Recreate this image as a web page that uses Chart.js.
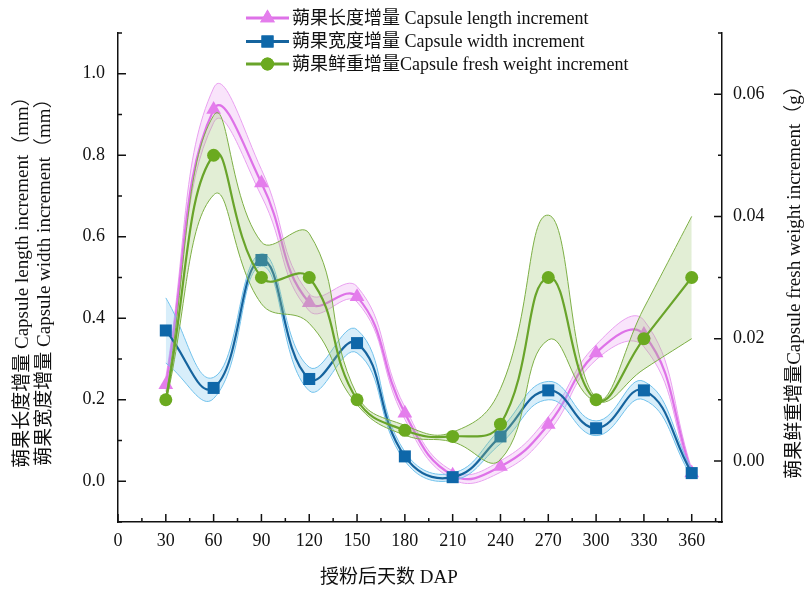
<!DOCTYPE html>
<html><head><meta charset="utf-8">
<script src="https://cdn.jsdelivr.net/npm/chart.js@4.4.1/dist/chart.umd.min.js"></script>
<style>html,body{margin:0;padding:0;background:#fff;}#wrap{width:808px;height:595px;}</style>
</head><body><div id="wrap"><canvas id="c" width="808" height="595"></canvas></div>
<script>
// ---- data ----
const days = [30, 60, 90, 120, 150, 180, 210, 240, 270, 300, 330, 360];
const lengthVals  = [0.237, 0.912, 0.732, 0.438, 0.453, 0.167, 0.015, 0.036, 0.139, 0.315, 0.360, 0.020];
const lengthUpper = [0.255, 0.965, 0.765, 0.460, 0.478, 0.182, 0.025, 0.050, 0.158, 0.335, 0.395, 0.030];
const lengthLower = [0.220, 0.880, 0.700, 0.418, 0.440, 0.152, 0.005, 0.022, 0.120, 0.298, 0.330, 0.012];
const widthVals   = [0.370, 0.229, 0.543, 0.251, 0.339, 0.061, 0.010, 0.110, 0.223, 0.130, 0.223, 0.020];
const widthUpper  = [0.450, 0.255, 0.558, 0.280, 0.372, 0.072, 0.020, 0.128, 0.245, 0.148, 0.245, 0.030];
const widthLower  = [0.290, 0.203, 0.528, 0.222, 0.315, 0.050, 0.002, 0.092, 0.200, 0.112, 0.200, 0.010];
const weightVals  = [0.0100, 0.0500, 0.0300, 0.0300, 0.0100, 0.0050, 0.0040, 0.0060, 0.0300, 0.0100, 0.0200, 0.0300];
const weightUpper = [0.0105, 0.0565, 0.0358, 0.0372, 0.0108, 0.0058, 0.0047, 0.0118, 0.0402, 0.0103, 0.0250, 0.0400];
const weightLower = [0.0095, 0.0435, 0.0257, 0.0225, 0.0092, 0.0042, 0.0031, 0.0002, 0.0198, 0.0097, 0.0150, 0.0200];

const xTicks  = [0, 30, 60, 90, 120, 150, 180, 210, 240, 270, 300, 330, 360];
const xMinor  = [15, 45, 75, 105, 135, 165, 195, 225, 255, 285, 315, 345, 375];
const yTicks  = [0, 0.2, 0.4, 0.6, 0.8, 1.0];
const yMinor  = [-0.1, 0.1, 0.3, 0.5, 0.7, 0.9, 1.1];
const y2Ticks = [0, 0.02, 0.04, 0.06];
const y2Minor = [-0.01, 0.01, 0.03, 0.05, 0.07];

const legendLabels = ['蒴果长度增量 Capsule length increment', '蒴果宽度增量 Capsule width increment', '蒴果鲜重增量Capsule fresh weight increment'];
const xTitle = '授粉后天数 DAP';
const yTitle = ['蒴果长度增量 Capsule length increment（mm）', '蒴果宽度增量 Capsule width increment（mm）'];
const y2Title = '蒴果鲜重增量Capsule fresh weight increment（g）';

// ---- styling ----
const FONT = '"Liberation Serif", "Times New Roman", "Noto Sans CJK SC", serif';
const T = 0.45;
const PINK = {line:'#DE72E8', mark:'#E47DEC', edge:'#E9A0F0', fill:'rgba(236,165,243,0.30)'};
const BLUE = {line:'#16649E', mark:'#0E67A9', edge:'#72C2EC', fill:'rgba(125,198,240,0.30)'};
const GREEN= {line:'#69A42A', mark:'#6BAA20', edge:'#7DAF45', fill:'rgba(160,200,115,0.30)'};

const xy = arr => arr.map((v, i) => ({x: days[i], y: v}));

function series(vals, up, lo, axis, c, style, radius, baseOrder) {
  return [
    {data: xy(up), yAxisID: axis, borderColor: c.edge, borderWidth: 1, pointRadius: 0, fill: false, tension: T, order: baseOrder + 1},
    {data: xy(lo), yAxisID: axis, borderColor: c.edge, borderWidth: 1, pointRadius: 0, fill: '-1', backgroundColor: c.fill, tension: T, order: baseOrder + 2},
    {data: xy(vals), yAxisID: axis, borderColor: c.line, borderWidth: 2.2, pointStyle: style, pointRadius: radius,
     pointBackgroundColor: c.mark, pointBorderColor: c.mark, pointBorderWidth: 0, fill: false, tension: T, order: baseOrder}
  ];
}

const datasets = [
  ...series(weightVals, weightUpper, weightLower, 'y2', GREEN, 'circle', 6.5, 1),
  ...series(widthVals, widthUpper, widthLower, 'y', BLUE, 'rect', 8.5, 4),
  ...series(lengthVals, lengthUpper, lengthLower, 'y', PINK, 'triangle', 8.5, 7),
];

const tickPlugin = {
  id: 'inTicks',
  afterDraw(chart) {
    const ctx = chart.ctx, a = chart.chartArea, sx = chart.scales.x, sy = chart.scales.y, s2 = chart.scales.y2;
    const MAJ = 8, MIN = 4;
    ctx.save();
    ctx.strokeStyle = '#111'; ctx.lineWidth = 1.5;
    ctx.beginPath();
    const xt = (v, L) => { const p = sx.getPixelForValue(v); ctx.moveTo(p, a.bottom); ctx.lineTo(p, a.bottom - L); };
    const yt = (v, L) => { const p = sy.getPixelForValue(v); ctx.moveTo(a.left, p); ctx.lineTo(a.left + L, p); };
    const y2t = (v, L) => { const p = s2.getPixelForValue(v); ctx.moveTo(a.right, p); ctx.lineTo(a.right - L, p); };
    xTicks.forEach(v => xt(v, MAJ)); xMinor.forEach(v => xt(v, MIN));
    yTicks.forEach(v => yt(v, MAJ)); yMinor.forEach(v => yt(v, MIN));
    y2Ticks.forEach(v => y2t(v, MAJ)); y2Minor.forEach(v => y2t(v, MIN));
    ctx.stroke();

    // axis titles
    ctx.fillStyle = '#111';
    ctx.font = '19px ' + FONT;
    ctx.textAlign = 'center'; ctx.textBaseline = 'middle';
    ctx.fillText(xTitle, 389, 578);
    const cy = (a.top + a.bottom) / 2;
    [23, 45].forEach((x, i) => {
      ctx.save(); ctx.translate(x, cy); ctx.rotate(-Math.PI / 2); ctx.fillText(yTitle[i], 0, 0); ctx.restore();
    });
    ctx.save(); ctx.translate(795, cy); ctx.rotate(-Math.PI / 2); ctx.fillText(y2Title, 0, 0); ctx.restore();

    // legend
    const rows = [18, 41.5, 64];
    const cols = [PINK, BLUE, GREEN];
    const styles = ['triangle', 'rect', 'circle'];
    const radii = [8.5, 8.5, 6.5];
    rows.forEach((ry, i) => {
      ctx.strokeStyle = cols[i].line; ctx.lineWidth = 3;
      ctx.beginPath(); ctx.moveTo(246, ry); ctx.lineTo(289, ry); ctx.stroke();
      ctx.fillStyle = cols[i].mark;
      Chart.helpers.drawPoint(ctx, {pointStyle: styles[i], radius: radii[i], rotation: 0, borderWidth: 0}, 267.5, ry);
      ctx.fill();
      ctx.fillStyle = '#111'; ctx.textAlign = 'left'; ctx.textBaseline = 'middle';
      ctx.font = '18px ' + FONT;
      ctx.fillText(legendLabels[i], 292, ry + 1);
    });
    ctx.restore();
  }
};

const tickFont = {family: FONT, size: 18};
new Chart(document.getElementById('c'), {
  type: 'line',
  data: {datasets},
  plugins: [tickPlugin],
  options: {
    responsive: false, animation: false, devicePixelRatio: 1,
    layout: {padding: {top: 33, left: 0, right: 0, bottom: 0}},
    plugins: {legend: {display: false}, tooltip: {enabled: false}, title: {display: false}},
    scales: {
      x: {type: 'linear', min: 0, max: 379,
          grid: {display: false, drawTicks: false},
          border: {display: true, color: '#111', width: 1.5},
          afterBuildTicks: s => { s.ticks = xTicks.map(v => ({value: v})); },
          afterFit: s => { s.height = 73; },
          ticks: {font: tickFont, color: '#111', padding: 8, maxRotation: 0, autoSkip: false, callback: v => String(v)}},
      y: {type: 'linear', position: 'left', min: -0.1, max: 1.1,
          grid: {display: false, drawTicks: false},
          border: {display: true, color: '#111', width: 1.5},
          afterBuildTicks: s => { s.ticks = yTicks.map(v => ({value: v})); },
          afterFit: s => { s.width = 118; },
          ticks: {font: tickFont, color: '#111', padding: 13, autoSkip: false, callback: v => Number(v).toFixed(1)}},
      y2: {type: 'linear', position: 'right', min: -0.01, max: 0.07,
          grid: {display: false, drawTicks: false},
          border: {display: true, color: '#111', width: 1.5},
          afterBuildTicks: s => { s.ticks = y2Ticks.map(v => ({value: v})); },
          afterFit: s => { s.width = 86; },
          ticks: {font: tickFont, color: '#111', padding: 11, autoSkip: false, callback: v => Number(v).toFixed(2)}}
    }
  }
});
</script></body></html>
